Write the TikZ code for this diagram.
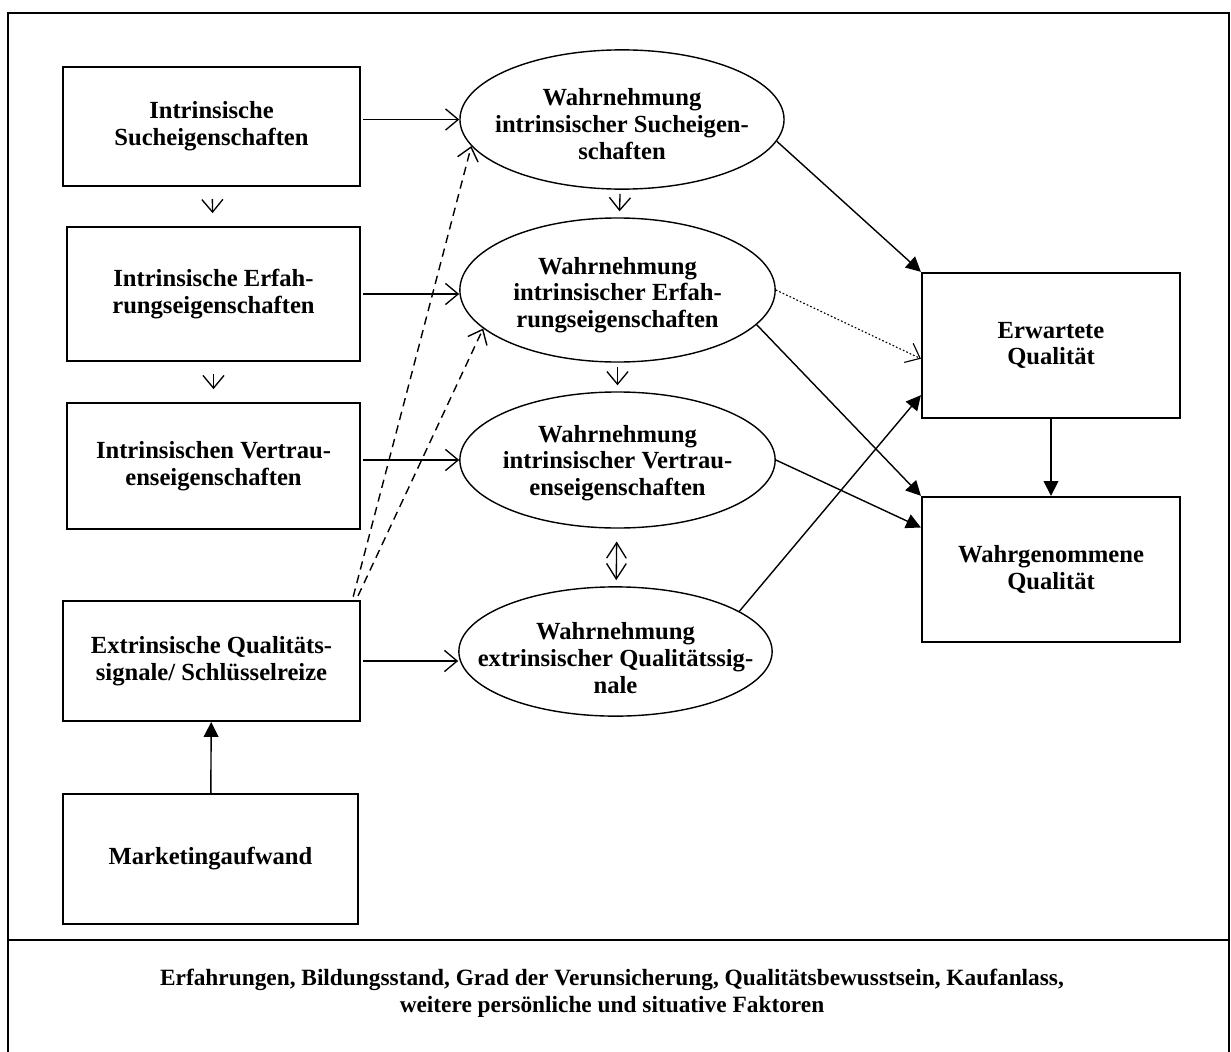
\documentclass[tikz,border=0pt]{standalone}
\usepackage{fontspec}
\setmainfont{Liberation Serif}
\usetikzlibrary{arrows.meta,shapes.geometric}

\begin{document}
\begin{tikzpicture}[x=0.025cm,y=-0.025cm,
  font=\fontsize{17.5}{19}\selectfont\bfseries,
  box/.style={draw,line width=1.5pt,align=center,inner sep=2pt},
  perc/.style={draw,ellipse,line width=1pt,inner sep=0pt},
  txt/.style={align=center,inner sep=0pt},
  opn/.style={-{Straight Barb[length=9pt,width=15pt]},line width=0.95pt},
  fil/.style={-{Triangle[length=10.5pt,width=10.5pt]},line width=1pt}]
  \useasboundingbox (0,0) rectangle (1231,1052);
  \draw[line width=1.5pt] (8,1060) -- (8,13) -- (1229,13) -- (1229,1060);
  \draw[line width=1.5pt] (8,940) -- (1229,940);

  % left column
  \node[box,minimum width=7.43cm,minimum height=2.98cm] (b1) at (211.5,126.5) {Intrinsische\\Sucheigenschaften};
  \node[box,minimum width=7.33cm,minimum height=3.35cm] (b2) at (213.5,294) {Intrinsische Erfah-\\rungseigenschaften};
  \node[box,minimum width=7.33cm,minimum height=3.15cm] (b3) at (213.5,466) {Intrinsischen Vertrau-\\enseigenschaften};
  \node[box,minimum width=7.43cm,minimum height=3cm] (b4) at (211.5,661) {Extrinsische Qualitäts-\\signale/ Schlüsselreize};
  \node[box,minimum width=7.38cm,minimum height=3.25cm] (b5) at (210.5,859) {Marketingaufwand};

  % perception
  \node[perc,minimum width=8.1cm,minimum height=3.48cm] (e1) at (622,119.5) {};
  \node[perc,minimum width=7.88cm,minimum height=3.6cm] (e2) at (617.5,290) {};
  \node[perc,minimum width=7.88cm,minimum height=3.4cm] (e3) at (617.5,460) {};
  \node[perc,minimum width=7.83cm,minimum height=3.23cm] (e4) at (615.5,651.5) {};
  \node[txt] (e1t) at (622,124) {Wahrnehmung\\intrinsischer Sucheigen-\\schaften};
  \node[txt] (e2t) at (617.5,295) {Wahrnehmung\\intrinsischer Erfah-\\rungseigenschaften};
  \node[txt] (e3t) at (617.5,463) {Wahrnehmung\\intrinsischer Vertrau-\\enseigenschaften};
  \node[txt] (e4t) at (615.5,658) {Wahrnehmung\\extrinsischer Qualitätssig-\\nale};

  % quality
  \node[box,minimum width=6.45cm,minimum height=3.63cm] (r1) at (1051,345.5) {Erwartete\\Qualität};
  \node[box,minimum width=6.45cm,minimum height=3.63cm] (r2) at (1051,569.5) {Wahrgenommene\\Qualität};

  \node[txt,font=\fontsize{16.6}{19}\selectfont\bfseries] (fak) at (612,993) {Erfahrungen, Bildungsstand, Grad der Verunsicherung, Qualitätsbewusstsein, Kaufanlass,\\weitere persönliche und situative Faktoren};

  \draw[opn,shorten <=0.05cm] (b1.east |- e1.west) -- (e1.west);
  \draw[opn,shorten <=0.05cm] (b2.east) -- (e2.west |- b2.east);
  \draw[opn,shorten <=0.05cm] (b3.east |- e3.west) -- (e3.west);
  \draw[opn,shorten <=0.05cm] (b4.east) -- (e4.west |- b4.east);
  \draw[opn,shorten <=0.3cm,shorten >=0.32cm] (b1) -- (b2);
  \draw[opn,shorten <=0.3cm,shorten >=0.32cm] (b2) -- (b3);
  \draw[opn,shorten <=0.1cm,shorten >=0.15cm] (e1) -- (e2);
  \draw[opn,shorten <=0.1cm,shorten >=0.15cm] (e2) -- (e3);
  \draw[{Straight Barb[length=11pt,width=14pt]}-{Straight Barb[length=11pt,width=14pt]},line width=0.95pt,shorten <=0.32cm,shorten >=0.15cm] (e3) -- (e4);
  \draw[opn,dash pattern=on 6pt off 4pt,line width=1pt] ([xshift=-0.2cm,yshift=0.08cm]b4.north east) -- (e1.190);
  \draw[opn,dash pattern=on 6pt off 4pt,line width=1pt] ([xshift=-0.08cm,yshift=0.1cm]b4.north east) -- (e2.196);
  \draw[opn,dash pattern=on 1.2pt off 1.5pt,line width=0.8pt] (e2.east) -- ([yshift=-0.33cm]r1.west);
  \draw[fil] (e1.352) -- (r1.north west);
  \draw[fil] (e2.346) -- (r2.north west);
  \draw[fil] (e3.east) -- ([yshift=1.05cm]r2.west);
  \draw[fil] (e4.18) -- ([yshift=0.6cm]r1.south west);
  \draw[fil] (r1) -- (r2);
  \draw[fil] (b5) -- (b4);
\end{tikzpicture}
\end{document}
